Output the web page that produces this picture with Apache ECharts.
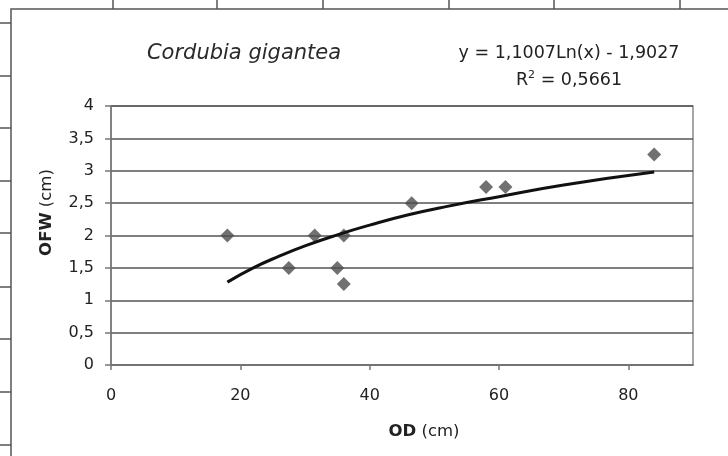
<!DOCTYPE html>
<html>
<head>
<meta charset="utf-8">
<script src="https://cdn.jsdelivr.net/npm/echarts@6/dist/echarts.min.js"></script>
<style>
html,body{margin:0;padding:0;background:#fff;}
#chart{width:728px;height:456px;}
</style>
</head>
<body>
<div id="chart"></div>
<script>
// Data
var odValues  = [18, 27.5, 31.5, 35, 36, 36, 46.5, 58, 61, 84];      // OD (cm)
var ofwValues = [2, 1.5, 2, 1.5, 2, 1.25, 2.5, 2.75, 2.75, 3.25];    // OFW (cm)
var trendX = [18, 22, 26, 30, 35, 40, 46, 52, 60, 70, 84];
var trendY = [1.28, 1.50, 1.68, 1.84, 2.01, 2.16, 2.32, 2.45, 2.60, 2.78, 2.98];
var xTicks = [0, 20, 40, 60, 80];
var titleText = 'Cordubia gigantea';
var equationText = 'y = 1,1007Ln(x) - 1,9027';
var r2Text = '0,5661';

var scatterData = odValues.map(function (x, i) { return [x, ofwValues[i]]; });
var trendData = trendX.map(function (x, i) { return [x, trendY[i]]; });

var FONT = 'DejaVu Sans';
var chart = echarts.init(document.getElementById('chart'), null, {renderer: 'canvas'});

// decorative spreadsheet cell borders around the chart frame
var deco = [];
[113, 217, 323, 449, 554, 680].forEach(function (x) {
  deco.push({type: 'line', shape: {x1: x, y1: 0, x2: x, y2: 9}, style: {stroke: '#555', lineWidth: 1.5}, silent: true});
});
[23, 76, 128, 181, 233, 287, 339, 392, 445].forEach(function (y) {
  deco.push({type: 'line', shape: {x1: 0, y1: y, x2: 11, y2: y}, style: {stroke: '#555', lineWidth: 1.5}, silent: true});
});
deco.push({type: 'polyline', shape: {points: [[11, 460], [11, 9], [730, 9]]}, style: {stroke: '#555', lineWidth: 1.5, fill: null}, silent: true});

chart.setOption({
  animation: false,
  backgroundColor: '#fff',
  graphic: deco,
  title: [
    {text: titleText, left: 244, top: 43, textAlign: 'center', padding: 0,
     textStyle: {fontFamily: FONT, fontStyle: 'italic', fontWeight: 'normal', fontSize: 21, color: '#2a2a2a'}},
    {text: equationText, left: 569, top: 44, textAlign: 'center', padding: 0,
     textStyle: {fontFamily: FONT, fontWeight: 'normal', fontSize: 17.5, color: '#222'}},
    {text: 'R{sup|2} = ' + r2Text, left: 569, top: 70, textAlign: 'center', padding: 0,
     textStyle: {fontFamily: FONT, fontWeight: 'normal', fontSize: 17.5, color: '#222',
       rich: {sup: {fontFamily: FONT, fontSize: 11, verticalAlign: 'top', padding: [0, 0, 9, 0], color: '#222'}}}}
  ],
  grid: {left: 111, right: 35, top: 106, bottom: 91, show: true, borderColor: '#888', borderWidth: 1.5, backgroundColor: 'transparent'},
  xAxis: {
    type: 'value', min: 0, max: 90, interval: 20,
    name: '{b|OD} (cm)', nameLocation: 'middle', nameGap: 58,
    nameTextStyle: {fontFamily: FONT, fontSize: 16.5, color: '#222', padding: [0, 0, 0, 44],
      rich: {b: {fontFamily: FONT, fontSize: 16.5, fontWeight: 'bold', color: '#222'}}},
    axisLine: {show: true, onZero: false, lineStyle: {color: '#777', width: 1.5}},
    axisTick: {show: true, length: 5, customValues: xTicks, lineStyle: {color: '#777', width: 1.5}},
    axisLabel: {customValues: xTicks, margin: 23, fontFamily: FONT, fontSize: 16, color: '#222'},
    splitLine: {show: false}
  },
  yAxis: {
    type: 'value', min: 0, max: 4, interval: 0.5,
    name: '{b|OFW} (cm)', nameLocation: 'middle', nameGap: 56,
    nameTextStyle: {fontFamily: FONT, fontSize: 16.5, color: '#222', padding: [0, 0, 0, 46],
      rich: {b: {fontFamily: FONT, fontSize: 16.5, fontWeight: 'bold', color: '#222'}}},
    axisLine: {show: true, lineStyle: {color: '#777', width: 1.5}},
    axisTick: {show: true, length: 6, lineStyle: {color: '#777', width: 1.5}},
    axisLabel: {margin: 17, fontFamily: FONT, fontSize: 16, color: '#222',
      formatter: function (v) { return String(v).replace('.', ','); }},
    splitLine: {show: true, lineStyle: {color: '#555', width: 1.5}}
  },
  series: [
    {type: 'scatter', data: scatterData, symbol: 'diamond', symbolSize: 14,
     itemStyle: {color: '#4d4d4d'}, z: 3},
    {type: 'line', data: trendData, smooth: true, showSymbol: false, symbol: 'none',
     lineStyle: {color: '#111', width: 3}, z: 4}
  ]
});
</script>
</body>
</html>
